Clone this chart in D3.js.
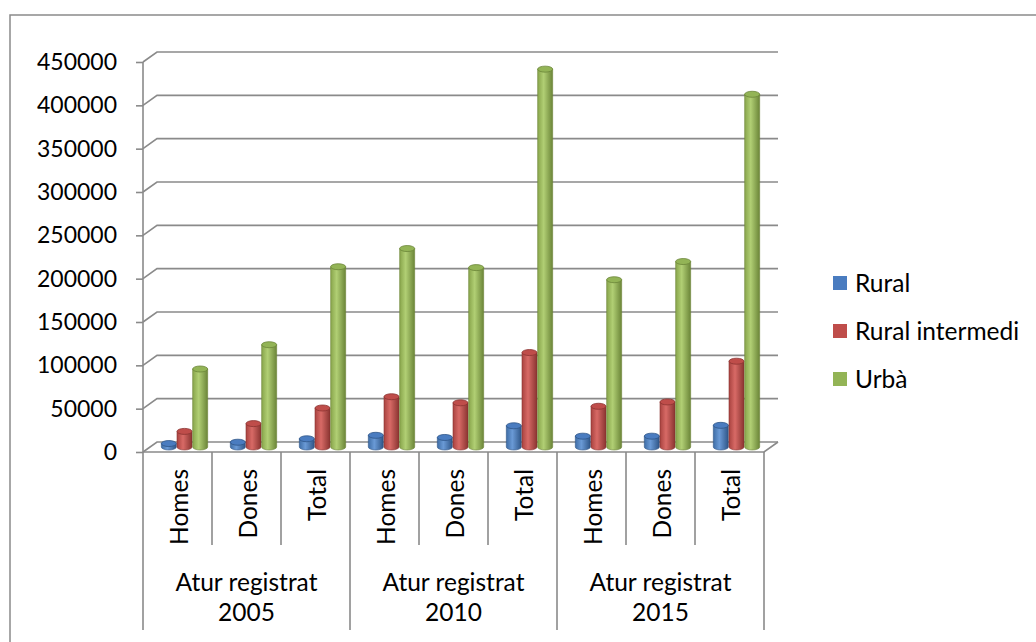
<!DOCTYPE html>
<html>
<head>
<meta charset="utf-8">
<script src="https://cdn.jsdelivr.net/npm/d3@7/dist/d3.min.js"></script>
<style>
  body { margin: 0; background: #fff; }
  text { font-family: Lato, "Open Sans", sans-serif; fill: #000; }
</style>
</head>
<body>
<div id="chart"></div>
<script>
// values
const groups = ['Atur registrat 2005', 'Atur registrat 2010', 'Atur registrat 2015']
const categories = ['Homes', 'Dones', 'Total', 'Homes', 'Dones', 'Total', 'Homes', 'Dones', 'Total']
const seriesNames = ['Rural', 'Rural intermedi', 'Urbà']
const rural = [4000, 5500, 9500, 13500, 11000, 24500, 12500, 12500, 25000]
const ruralIntermedi = [18000, 27000, 45000, 58000, 51000, 109000, 47000, 52000, 99000]
const urba = [90000, 118000, 208000, 229000, 207000, 436000, 193000, 214000, 407000]
const yTicks = [0, 50000, 100000, 150000, 200000, 250000, 300000, 350000, 400000, 450000]

const colors = {
  'Rural': ['#3e6da6', '#6a9ad6', '#2f5688', '#4a7cc0'],
  'Rural intermedi': ['#a94340', '#d86a66', '#8a3431', '#bf4d4a'],
  'Urbà': ['#88a54b', '#b1cf74', '#6b8538', '#93b456']
}
const seriesData = [rural, ruralIntermedi, urba]

const W = 1036, H = 642
const dx = 14, dy = -10 // depth of the 3d box
const grid = '#8a8a8a'
const fs = 24.5

const svg = d3.select('#chart').append('svg')
  .attr('width', W)
  .attr('height', H)

// outer chart border
svg.append('rect')
  .attr('x', 10).attr('y', 15)
  .attr('width', W + 20).attr('height', H + 20)
  .attr('fill', 'none').attr('stroke', grid).attr('stroke-width', 1.5)

let x = d3.scaleBand().domain(d3.range(categories.length)).range([143, 764])
let y = d3.scaleLinear().domain([0, 450000]).range([452, 62])
let xs = d3.scaleBand().domain(seriesNames).range([-23.5, 23.5])

// gradients for the cylinders
let defs = svg.append('defs')
seriesNames.forEach((s, i) => {
  let g = defs.append('linearGradient').attr('id', 'g' + i)
    .attr('x1', 0).attr('x2', 1).attr('y1', 0).attr('y2', 0)
  let c = colors[s]
  g.append('stop').attr('offset', '0%').attr('stop-color', c[0])
  g.append('stop').attr('offset', '40%').attr('stop-color', c[1])
  g.append('stop').attr('offset', '100%').attr('stop-color', c[2])
})

// back wall gridlines with the little slanted step
svg.append('g').selectAll('path')
  .data(yTicks)
  .enter()
  .append('path')
  .attr('d', d => 'M143,' + y(d) + 'l' + dx + ',' + dy + 'H778')
  .attr('fill', 'none').attr('stroke', grid).attr('stroke-width', 1.6)

// floor front edge and right side
svg.append('path')
  .attr('d', 'M143,' + y(0) + 'H764l' + dx + ',' + dy)
  .attr('fill', 'none').attr('stroke', grid).attr('stroke-width', 1.6)

// y axis
let yAxis = d3.axisLeft(y).tickValues(yTicks).tickSize(7).tickPadding(19).tickFormat(d3.format('d'))
let ya = svg.append('g').attr('transform', 'translate(143,0)').call(yAxis)
ya.select('.domain').remove()
ya.selectAll('line').attr('stroke', grid).attr('stroke-width', 1.6)
ya.selectAll('text').attr('font-size', 23).attr('font-family', 'Lato, sans-serif').attr('fill', '#000')
svg.append('line')
  .attr('x1', 143).attr('x2', 143).attr('y1', y(450000)).attr('y2', 630)
  .attr('stroke', grid).attr('stroke-width', 1.6)

// category dividers below the floor
svg.append('g').selectAll('line')
  .data(d3.range(1, categories.length + 1))
  .enter()
  .append('line')
  .attr('x1', d => x(0) + d * x.bandwidth())
  .attr('x2', d => x(0) + d * x.bandwidth())
  .attr('y1', y(0))
  .attr('y2', d => d % 3 === 0 ? 630 : 545)
  .attr('stroke', grid).attr('stroke-width', 1.6)

// rotated category labels
svg.append('g').selectAll('text')
  .data(categories)
  .enter()
  .append('text')
  .text(d => d)
  .attr('transform', (d, i) => 'translate(' + (x(i) + x.bandwidth() / 2 + 1) + ',469) rotate(-90)')
  .attr('text-anchor', 'end')
  .attr('dominant-baseline', 'central')
  .attr('font-size', fs)

// group labels
let gl = svg.append('g').selectAll('text')
  .data(groups)
  .enter()
  .append('text')
  .attr('text-anchor', 'middle')
  .attr('font-size', fs)
  .attr('x', (d, i) => x(i * 3) + x.bandwidth() * 1.5)
  .attr('y', 591)
gl.append('tspan').text(d => d.slice(0, 14))
gl.append('tspan').text(d => d.slice(15))
  .attr('x', (d, i) => x(i * 3) + x.bandwidth() * 1.5)
  .attr('dy', 30)

// cylinders
let r = 7.5, ry = 3
let bars = []
seriesData.forEach((vals, si) => {
  vals.forEach((v, ci) => bars.push({ s: seriesNames[si], si: si, ci: ci, v: v }))
})
bars.sort((a, b) => a.ci - b.ci || a.si - b.si)

let cyl = svg.append('g').selectAll('g')
  .data(bars)
  .enter()
  .append('g')
  .attr('transform', d => 'translate(' + (x(d.ci) + x.bandwidth() / 2 + xs(d.s) + xs.bandwidth() / 2 + dx / 2) + ',' + (dy / 2) + ')')

cyl.append('path')
  .attr('d', d => {
    let yt = y(d.v), yb = y(0)
    return 'M' + (-r) + ',' + yt + 'V' + yb + 'A' + r + ',' + ry + ' 0 0 0 ' + r + ',' + yb + 'V' + yt + 'Z'
  })
  .attr('fill', d => 'url(#g' + d.si + ')')
  .attr('stroke', d => colors[d.s][2])
  .attr('stroke-width', 0.6)

cyl.append('ellipse')
  .attr('cx', 0)
  .attr('cy', d => y(d.v))
  .attr('rx', r)
  .attr('ry', ry)
  .attr('fill', d => colors[d.s][3])
  .attr('stroke', d => colors[d.s][2])
  .attr('stroke-width', 0.8)

// legend
let leg = svg.append('g').selectAll('g')
  .data(seriesNames)
  .enter()
  .append('g')
  .attr('transform', (d, i) => 'translate(833,' + (283 + i * 48) + ')')
leg.append('rect')
  .attr('x', 0).attr('y', -7)
  .attr('width', 14).attr('height', 14)
  .attr('fill', d => colors[d][3])
leg.append('text')
  .text(d => d)
  .attr('x', 22)
  .attr('dy', '0.35em')
  .attr('font-size', fs)
</script>
</body>
</html>
